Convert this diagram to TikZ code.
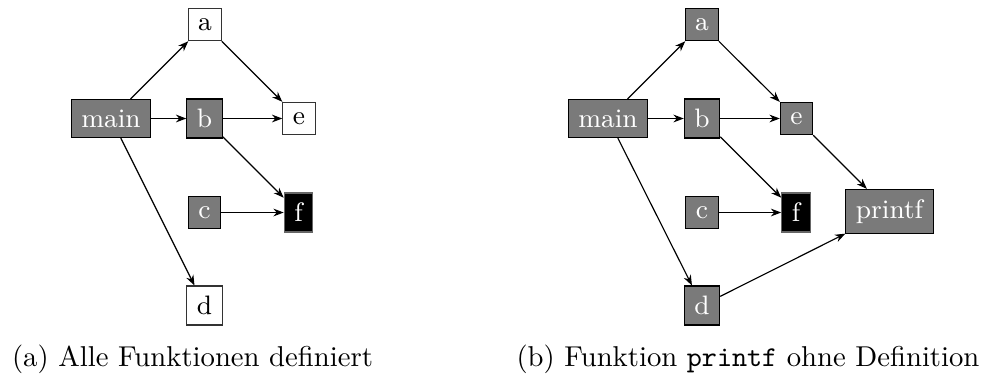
\documentclass[tikz,border=0pt]{standalone}
\usepackage{fontspec}
\usetikzlibrary{arrows.meta}
\begin{document}
\begin{tikzpicture}[x=0.3484pt,y=-0.3484pt,
  fnbase/.style={rectangle,draw=black,line width=0.4pt,inner sep=3.5pt,
    font=\fontsize{9.3}{11}\selectfont},
  fngray/.style={fnbase,fill=black!52,text=white},
  fnwhite/.style={fnbase,fill=white,draw=black!80,text=black},
  fnblack/.style={fnbase,fill=black,draw=black!60,text=white},
  call/.style={-{Stealth[length=3.6pt,width=2.7pt]},line width=0.4pt,black},
  caption/.style={anchor=base,font=\fontsize{10}{12}\selectfont,inner sep=0pt}]
\useasboundingbox (0,0) rectangle (990,374);

% (a) every function has a definition
\node[fngray]  (mainL) at (111,118.5)   {main};
\node[fnwhite] (aL)    at (205,24.5)    {a};
\node[fngray]  (bL)    at (204.5,118.5) {b};
\node[fnwhite] (eL)    at (299,118.5)   {e};
\node[fngray]  (cL)    at (204.5,212.5) {c};
\node[fnblack] (fL)    at (298.5,212.5) {f};
\node[fnwhite] (dL)    at (204.5,305.5) {d};

\draw[call] (mainL) -- (aL);
\draw[call] (mainL) -- (bL);
\draw[call] (mainL) -- (dL);
\draw[call] (aL) -- (eL);
\draw[call] (bL) -- (eL);
\draw[call] (bL) -- (fL);
\draw[call] (cL) -- (fL);

\node[caption] (capL) at (192.5,366) {(a) Alle Funktionen definiert};

% (b) printf is called but never defined
\node[fngray]  (mainR) at (608,118.5)   {main};
\node[fngray]  (aR)    at (702,24.5)    {a};
\node[fngray]  (bR)    at (702,118.5)   {b};
\node[fngray]  (eR)    at (796.5,118.5) {e};
\node[fngray]  (cR)    at (702,212.5)   {c};
\node[fnblack] (fR)    at (796,212.5)   {f};
\node[fngray]  (dR)    at (702,305.5)   {d};
\node[fngray]  (pR)    at (889.5,211.5) {printf};

\draw[call] (mainR) -- (aR);
\draw[call] (mainR) -- (bR);
\draw[call] (mainR) -- (dR);
\draw[call] (aR) -- (eR);
\draw[call] (bR) -- (eR);
\draw[call] (bR) -- (fR);
\draw[call] (cR) -- (fR);
\draw[call] (eR) -- (pR);
\draw[call] (dR) -- (pR);

\node[caption] (capR) at (748,366) {(b) Funktion \texttt{printf} ohne Definition};
\end{tikzpicture}
\end{document}
